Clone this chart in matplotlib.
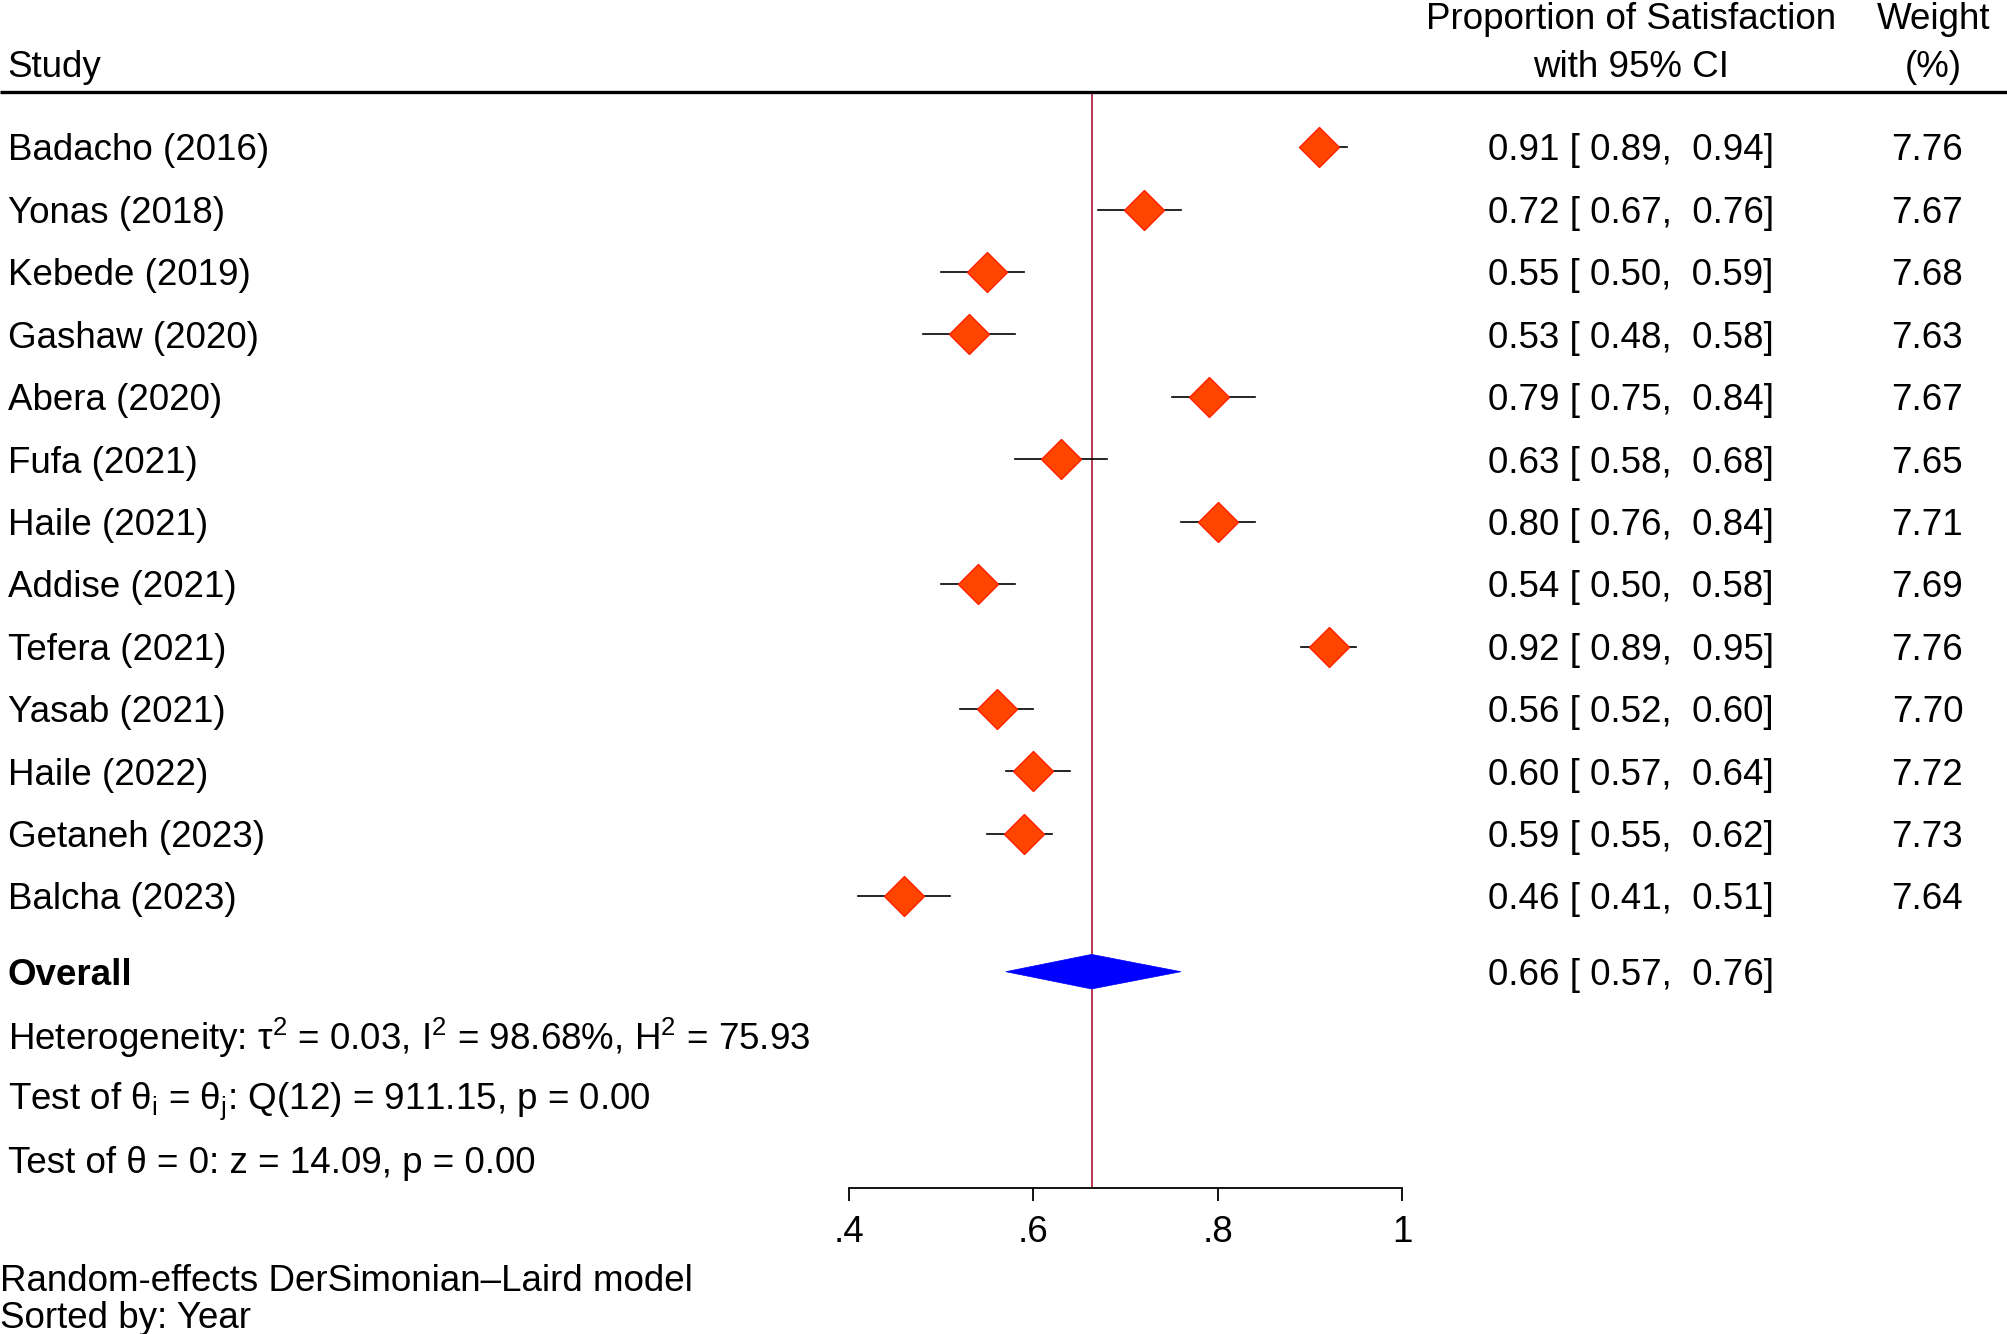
import matplotlib
matplotlib.use("Agg")
import matplotlib.pyplot as plt
from matplotlib.transforms import blended_transform_factory
from matplotlib.patches import Polygon

plt.rcParams['font.family'] = ['Liberation Sans', 'DejaVu Sans']
plt.rcParams['mathtext.fontset'] = 'custom'
plt.rcParams['mathtext.rm'] = 'Liberation Sans'
plt.rcParams['mathtext.it'] = 'Liberation Sans:italic'
plt.rcParams['mathtext.bf'] = 'Liberation Sans:bold'

# study data
studies = ['Badacho (2016)', 'Yonas (2018)', 'Kebede (2019)', 'Gashaw (2020)',
           'Abera (2020)', 'Fufa (2021)', 'Haile (2021)', 'Addise (2021)',
           'Tefera (2021)', 'Yasab (2021)', 'Haile (2022)', 'Getaneh (2023)',
           'Balcha (2023)']
est = [0.91, 0.72, 0.55, 0.53, 0.79, 0.63, 0.80, 0.54, 0.92, 0.56, 0.60, 0.59, 0.46]
lo = [0.89, 0.67, 0.50, 0.48, 0.75, 0.58, 0.76, 0.50, 0.89, 0.52, 0.57, 0.55, 0.41]
hi = [0.94, 0.76, 0.59, 0.58, 0.84, 0.68, 0.84, 0.58, 0.95, 0.60, 0.64, 0.62, 0.51]
weights = [7.76, 7.67, 7.68, 7.63, 7.67, 7.65, 7.71, 7.69, 7.76, 7.70, 7.72, 7.73, 7.64]

overall_est = 0.663
overall_lo = 0.57
overall_hi = 0.76

het_text = r'Heterogeneity: τ$^\mathregular{2}$ = 0.03, I$^\mathregular{2}$ = 98.68%, H$^\mathregular{2}$ = 75.93'
q_text = r'Test of θ$_\mathregular{i}$ = θ$_\mathregular{j}$: Q(12) = 911.15, p = 0.00'
z_text = 'Test of θ = 0: z = 14.09, p = 0.00'

xticks = [0.4, 0.6, 0.8, 1.0]
xticklabels = ['.4', '.6', '.8', '1']

FS = 26.5
DY = 0.06  # small downward nudge for text rows

fig = plt.figure(figsize=(20.08, 13.34), dpi=100)
ax = fig.add_axes([0, 0, 1, 1])
ax.set_xlim(-0.52083, 1.65694)
ax.set_ylim(19.015, -2.359)
for s in ['top', 'left', 'right']:
    ax.spines[s].set_visible(False)
ax.set_yticks([])

tr = blended_transform_factory(ax.transAxes, ax.transData)


def txt(x, y, s, **kw):
    kw.setdefault('ha', 'left')
    ax.text(x, y + DY, s, transform=tr, va='center', fontsize=FS, **kw)


# header
txt(0.0038, -1.333, 'Study')
txt(0.8125, -2.113, 'Proportion of Satisfaction', ha='center')
txt(0.8125, -1.333, 'with 95% CI', ha='center')
txt(0.963, -2.113, 'Weight', ha='center')
txt(0.963, -1.333, '(%)', ha='center')
ax.plot([0, 1], [-0.882, -0.882], transform=tr, color='black', lw=2.4, solid_capstyle='butt')

# reference line at overall estimate
ax.plot([overall_est, overall_est], [-0.882, 16.677], color='#a50021', lw=1.1, zorder=1)

# studies
for i, name in enumerate(studies):
    txt(0.0038, i, name)
    ax.plot([lo[i], hi[i]], [i, i], color='black', lw=1.2, zorder=2)
    ax.plot(est[i], i, marker='D', ms=20, mfc='#ff4500', mec='#ff2000', mew=1, zorder=3)
    txt(0.741, i, f'{est[i]:.2f} [ {lo[i]:.2f},  {hi[i]:.2f}]')
    txt(0.9777, i, f'{weights[i]:.2f}', ha='right')

# overall
ro = 13.21
h = 0.277
ax.add_patch(Polygon([(overall_lo, ro), (overall_est, ro - h), (overall_hi, ro), (overall_est, ro + h)],
                     closed=True, facecolor='#0000ff', edgecolor='#0000ff', lw=0.5, zorder=3))
txt(0.0038, ro, 'Overall', fontweight='bold')
txt(0.741, ro, f'{overall_est:.2f} [ {overall_lo:.2f},  {overall_hi:.2f}]')

txt(0.0038, 14.215, het_text)
txt(0.0038, 15.22, q_text)
txt(0.0038, 16.226, z_text)

# x axis
ax.spines['bottom'].set_position(('data', 16.677))
ax.spines['bottom'].set_bounds(xticks[0], xticks[-1])
ax.spines['bottom'].set_linewidth(1.3)
ax.set_xticks(xticks, labels=xticklabels)
ax.tick_params(axis='x', direction='out', length=9.4, width=1.3, pad=10, labelsize=FS)

# footer
txt(0.0, 18.11, 'Random-effects DerSimonian\u2013Laird model')
txt(0.0, 18.71, 'Sorted by: Year')

fig.savefig('out.png', dpi=100)
